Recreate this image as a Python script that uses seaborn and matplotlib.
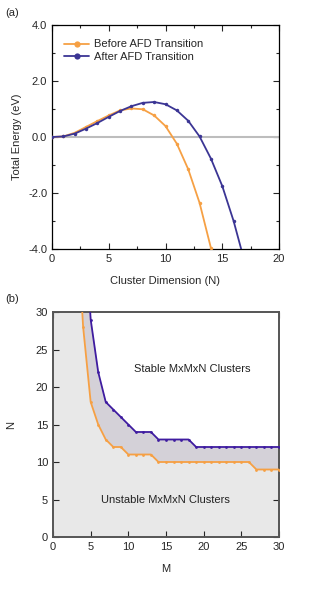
import matplotlib
matplotlib.use('Agg')
import matplotlib.pyplot as plt
import numpy as np
import pandas as pd
import seaborn as sns
from matplotlib.ticker import MultipleLocator, FormatStrFormatter

# panel (a): total energy vs cluster dimension
n_before = [0, 1, 2, 3, 4, 5, 6, 7, 8, 9, 10, 11, 12, 13, 14]
e_before = [0.0, 0.02, 0.15, 0.36, 0.57, 0.77, 0.95, 1.02, 0.99, 0.77, 0.39, -0.24, -1.15, -2.35, -3.96]
n_after = [0, 1, 2, 3, 4, 5, 6, 7, 8, 9, 10, 11, 12, 13, 14, 15, 16, 17]
e_after = [0.0, 0.02, 0.12, 0.30, 0.50, 0.72, 0.93, 1.10, 1.22, 1.25, 1.17, 0.95, 0.58, 0.02, -0.77, -1.75, -3.0, -4.5]

# panel (b): stability boundary (values above 30 are off the chart)
m_vals = list(range(3, 31))
n_orange = [45, 28, 18, 15, 13, 12, 12, 11, 11, 11, 11, 10, 10, 10, 10, 10, 10, 10, 10, 10, 10, 10, 10, 10, 9, 9, 9, 9]
n_blue = [80, 45, 29, 22, 18, 17, 16, 15, 14, 14, 14, 13, 13, 13, 13, 13, 12, 12, 12, 12, 12, 12, 12, 12, 12, 12, 12, 12]

orange = '#f6a044'
blue_a = '#3b3594'
blue_b = '#3f1ca0'

sns.set_style("ticks")
plt.rcParams['font.family'] = ['Liberation Sans', 'DejaVu Sans']
plt.rcParams['font.size'] = 8

fig = plt.figure(figsize=(3.13, 5.89), dpi=100)
ax1 = fig.add_axes([52/313, 1 - 249/589, 227/313, 224/589])
ax2 = fig.add_axes([53/313, 1 - 537/589, 226/313, 225/589])

# ---- (a)
df_a = pd.DataFrame({'N': n_before + n_after,
                     'E': e_before + e_after,
                     'series': ['Before AFD Transition'] * len(n_before) + ['After AFD Transition'] * len(n_after)})
ax1.axhline(0, color='#bdbdbd', lw=1.5, zorder=1)
sns.lineplot(data=df_a, x='N', y='E', hue='series', palette=[orange, blue_a],
             marker='o', markersize=2.5, markeredgewidth=0, lw=1.3, ax=ax1, zorder=3)
ax1.set_xlim(0, 20)
ax1.set_ylim(-4, 4)
ax1.xaxis.set_major_locator(MultipleLocator(5))
ax1.xaxis.set_minor_locator(MultipleLocator(2.5))
ax1.yaxis.set_major_locator(MultipleLocator(2))
ax1.yaxis.set_minor_locator(MultipleLocator(1))
ax1.yaxis.set_major_formatter(FormatStrFormatter('%.1f'))
ax1.tick_params(which='both', direction='in', top=True, right=True, width=0.8, labelsize=8)
ax1.tick_params(which='major', length=4)
ax1.tick_params(which='minor', length=2.5)
ax1.set_xlabel('Cluster Dimension (N)', fontsize=8, labelpad=9)
ax1.set_ylabel('Total Energy (eV)', fontsize=8, labelpad=4)
for s in ax1.spines.values():
    s.set_linewidth(0.9)
    s.set_color('black')
leg = ax1.legend(loc='upper left', frameon=False, fontsize=8, handlelength=2.2,
                 handletextpad=0.5, borderaxespad=0.4, labelspacing=0.2,
                 bbox_to_anchor=(0.015, 0.975))
for h in leg.legend_handles:
    h.set_markersize(4.5)

# ---- (b)
df_b = pd.DataFrame({'M': m_vals, 'unstable': n_orange, 'stable': n_blue})
ax2.set_facecolor('#e8e8e8')
ax2.fill_between(df_b['M'], df_b['stable'], 80, color='white', lw=0, zorder=1)
ax2.fill_between(df_b['M'], df_b['unstable'], df_b['stable'], color='#d4d1d8', lw=0, zorder=1)
sns.lineplot(data=df_b, x='M', y='unstable', color=orange, marker='o', markersize=2,
             markeredgewidth=0, lw=1.3, ax=ax2, zorder=3)
sns.lineplot(data=df_b, x='M', y='stable', color=blue_b, marker='o', markersize=2,
             markeredgewidth=0, lw=1.3, ax=ax2, zorder=3)
ax2.set_xlim(0, 30)
ax2.set_ylim(0, 30)
ax2.xaxis.set_major_locator(MultipleLocator(5))
ax2.yaxis.set_major_locator(MultipleLocator(5))
ax2.tick_params(direction='in', top=True, right=True, length=4, width=0.8, labelsize=8)
ax2.set_xlabel('M', fontsize=8, labelpad=9)
ax2.set_ylabel('N', fontsize=8, labelpad=14)
for s in ax2.spines.values():
    s.set_linewidth(1.4)
    s.set_color('#555555')
ax2.text(18.5, 22.4, 'Stable MxMxN Clusters', ha='center', va='center', fontsize=8, color='#222222')
ax2.text(14.9, 4.9, 'Unstable MxMxN Clusters', ha='center', va='center', fontsize=8, color='#222222')

fig.text(5/313, 1 - 13/589, '(a)', fontsize=8, va='center')
fig.text(5/313, 1 - 299/589, '(b)', fontsize=8, va='center')

fig.savefig('out.png', dpi=100)
